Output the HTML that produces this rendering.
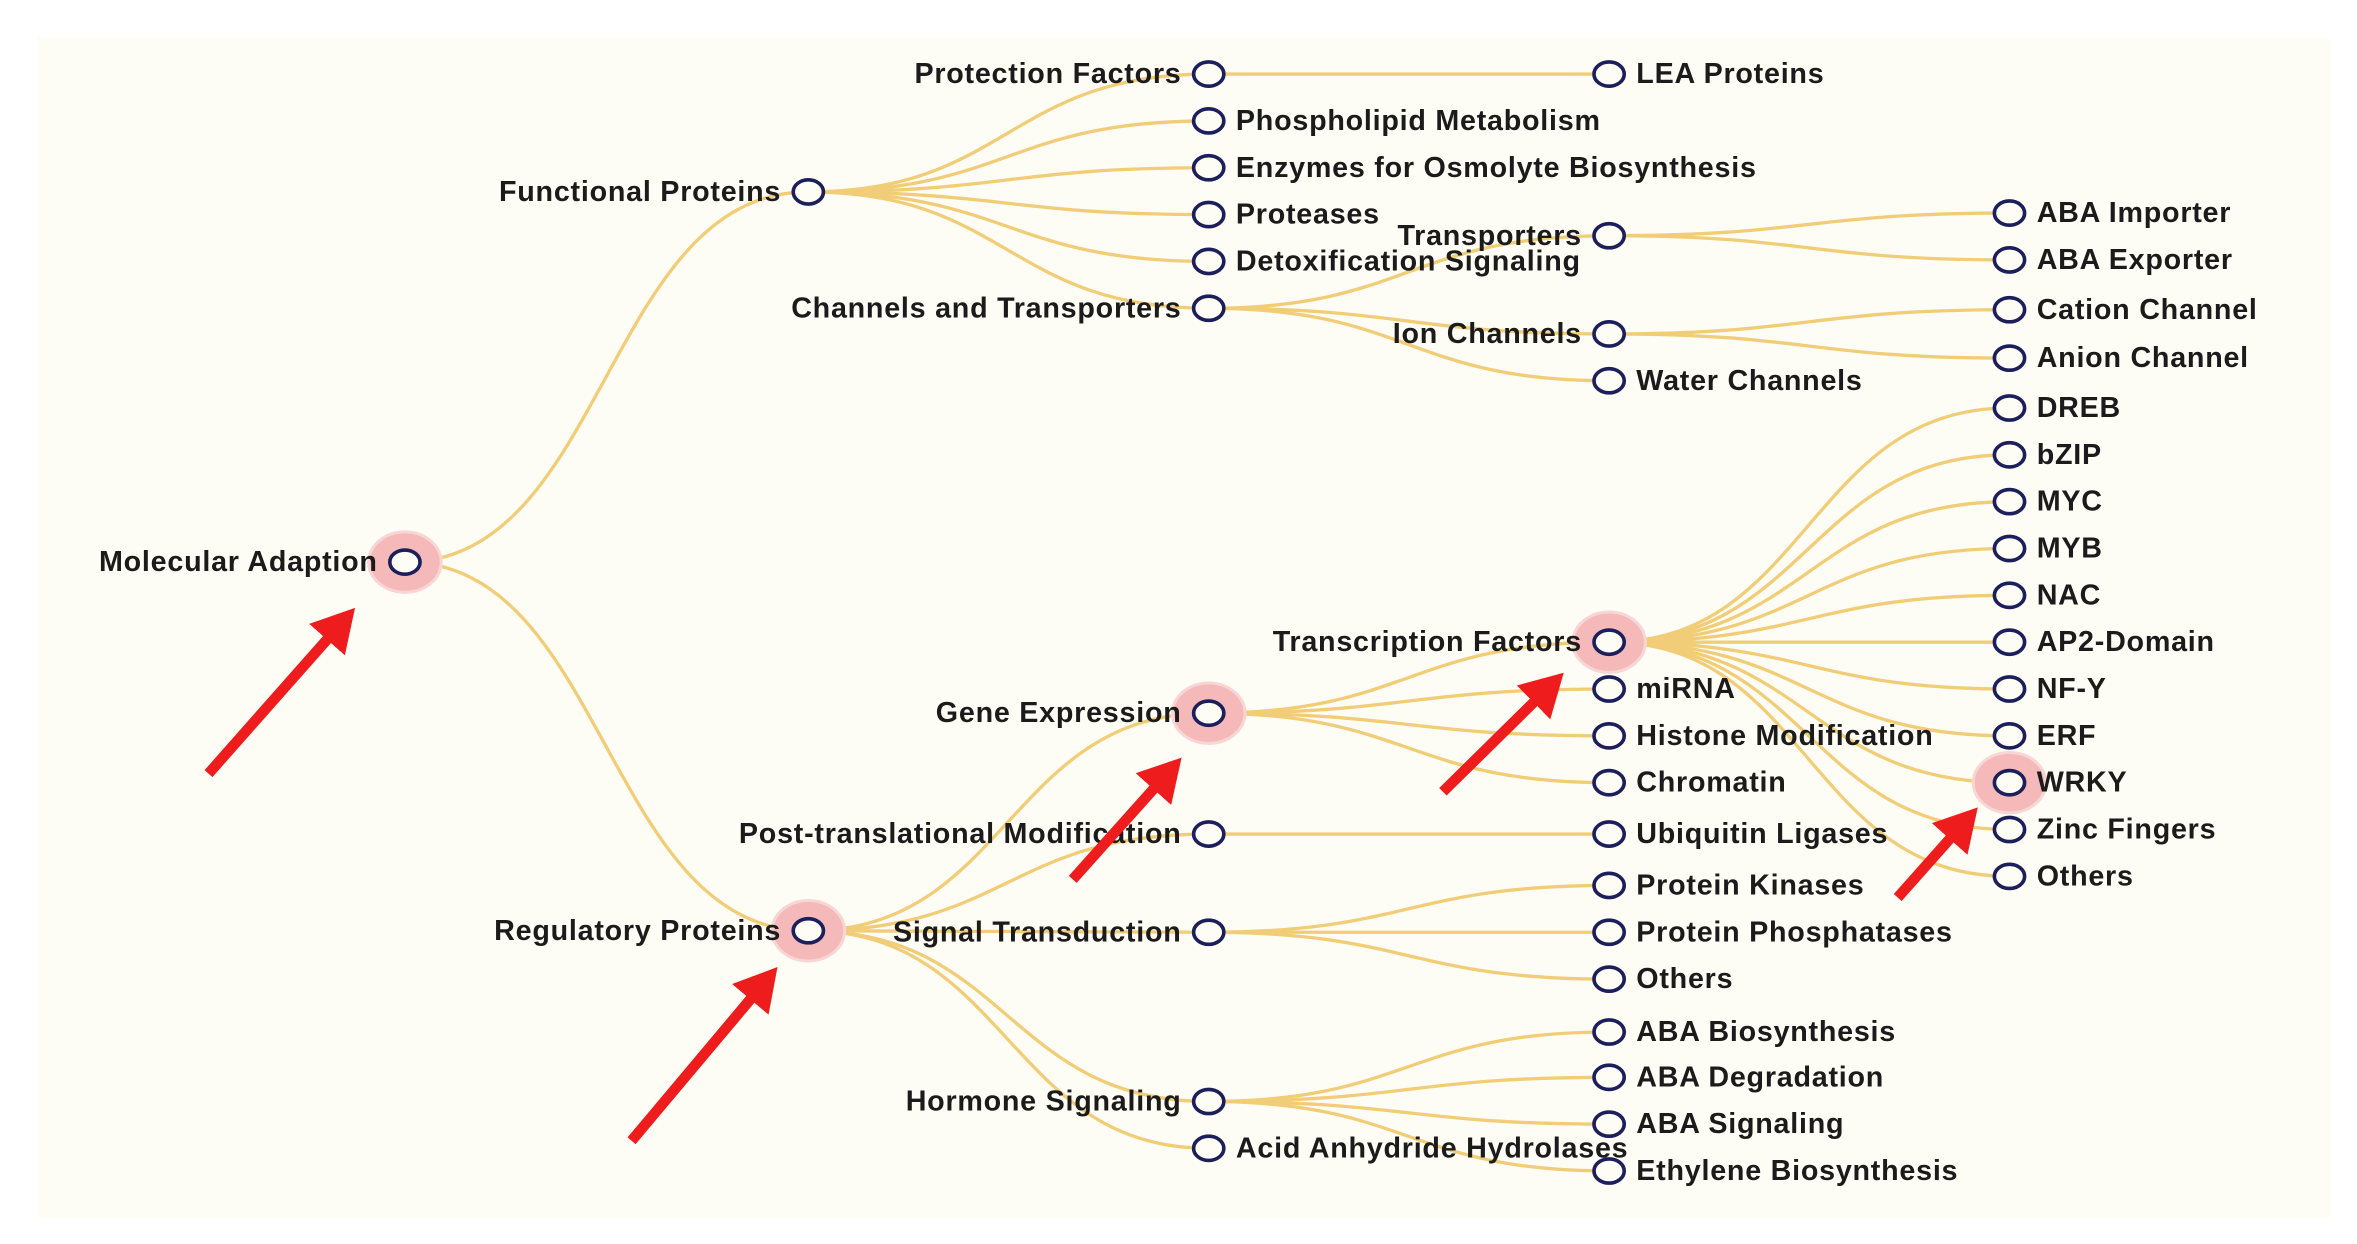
<!DOCTYPE html>
<html><head><meta charset="utf-8"><style>
html,body{margin:0;padding:0;background:#fff;}
svg{display:block}
text{font-family:"Liberation Sans",Arial,sans-serif;font-size:19px;font-weight:bold;fill:#1b1b1b;letter-spacing:0.5px;}
.l{fill:none;stroke:#f2cd78;stroke-width:2.2;}
.n{fill:#fefdf5;stroke:#1c1f5c;stroke-width:2.4;}
.h{fill:#f5b9b9;stroke:#f8d6d6;stroke-width:2;}
.e{text-anchor:end}
</style></head><body>
<svg width="2357" height="1244" viewBox="0 0 1560 823.3" xmlns="http://www.w3.org/2000/svg">
<rect x="0" y="0" width="1560" height="823.3" fill="#fff"/>
<rect x="25" y="25" width="1517" height="781" fill="#fefdf5"/>
<g class="l">
<path d="M268 372 C401 372,401 127,535 127"/>
<path d="M268 372 C401 372,401 616,535 616"/>
<path d="M535 127 C667 127,667 49,800 49"/>
<path d="M535 127 C667 127,667 80,800 80"/>
<path d="M535 127 C667 127,667 111,800 111"/>
<path d="M535 127 C667 127,667 142,800 142"/>
<path d="M535 127 C667 127,667 173,800 173"/>
<path d="M535 127 C667 127,667 204,800 204"/>
<path d="M535 616 C667 616,667 472,800 472"/>
<path d="M535 616 C667 616,667 552,800 552"/>
<path d="M535 616 C667 616,667 617,800 617"/>
<path d="M535 616 C667 616,667 729,800 729"/>
<path d="M535 616 C667 616,667 760,800 760"/>
<path d="M800 49 C932 49,932 49,1065 49"/>
<path d="M800 204 C932 204,932 156,1065 156"/>
<path d="M800 204 C932 204,932 221,1065 221"/>
<path d="M800 204 C932 204,932 252,1065 252"/>
<path d="M800 472 C932 472,932 425,1065 425"/>
<path d="M800 472 C932 472,932 456,1065 456"/>
<path d="M800 472 C932 472,932 487,1065 487"/>
<path d="M800 472 C932 472,932 518,1065 518"/>
<path d="M800 552 C932 552,932 552,1065 552"/>
<path d="M800 617 C932 617,932 586,1065 586"/>
<path d="M800 617 C932 617,932 617,1065 617"/>
<path d="M800 617 C932 617,932 648,1065 648"/>
<path d="M800 729 C932 729,932 683,1065 683"/>
<path d="M800 729 C932 729,932 713,1065 713"/>
<path d="M800 729 C932 729,932 744,1065 744"/>
<path d="M800 729 C932 729,932 775,1065 775"/>
<path d="M1065 156 C1197 156,1197 141,1330 141"/>
<path d="M1065 156 C1197 156,1197 172,1330 172"/>
<path d="M1065 221 C1197 221,1197 205,1330 205"/>
<path d="M1065 221 C1197 221,1197 237,1330 237"/>
<path d="M1065 425 C1197 425,1197 270,1330 270"/>
<path d="M1065 425 C1197 425,1197 301,1330 301"/>
<path d="M1065 425 C1197 425,1197 332,1330 332"/>
<path d="M1065 425 C1197 425,1197 363,1330 363"/>
<path d="M1065 425 C1197 425,1197 394,1330 394"/>
<path d="M1065 425 C1197 425,1197 425,1330 425"/>
<path d="M1065 425 C1197 425,1197 456,1330 456"/>
<path d="M1065 425 C1197 425,1197 487,1330 487"/>
<path d="M1065 425 C1197 425,1197 518,1330 518"/>
<path d="M1065 425 C1197 425,1197 549,1330 549"/>
<path d="M1065 425 C1197 425,1197 580,1330 580"/>
</g>
<g class="h">
<ellipse cx="268" cy="372" rx="24" ry="20"/>
<ellipse cx="535" cy="616" rx="24" ry="20"/>
<ellipse cx="800" cy="472" rx="24" ry="20"/>
<ellipse cx="1065" cy="425" rx="24" ry="20"/>
<ellipse cx="1330" cy="518" rx="24" ry="20"/>
</g>
<g class="n">
<ellipse cx="268" cy="372" rx="10" ry="8"/>
<ellipse cx="535" cy="127" rx="10" ry="8"/>
<ellipse cx="535" cy="616" rx="10" ry="8"/>
<ellipse cx="800" cy="49" rx="10" ry="8"/><ellipse cx="800" cy="80" rx="10" ry="8"/><ellipse cx="800" cy="111" rx="10" ry="8"/><ellipse cx="800" cy="142" rx="10" ry="8"/><ellipse cx="800" cy="173" rx="10" ry="8"/><ellipse cx="800" cy="204" rx="10" ry="8"/>
<ellipse cx="800" cy="472" rx="10" ry="8"/><ellipse cx="800" cy="552" rx="10" ry="8"/><ellipse cx="800" cy="617" rx="10" ry="8"/><ellipse cx="800" cy="729" rx="10" ry="8"/><ellipse cx="800" cy="760" rx="10" ry="8"/>
<ellipse cx="1065" cy="49" rx="10" ry="8"/><ellipse cx="1065" cy="156" rx="10" ry="8"/><ellipse cx="1065" cy="221" rx="10" ry="8"/><ellipse cx="1065" cy="252" rx="10" ry="8"/>
<ellipse cx="1065" cy="425" rx="10" ry="8"/><ellipse cx="1065" cy="456" rx="10" ry="8"/><ellipse cx="1065" cy="487" rx="10" ry="8"/><ellipse cx="1065" cy="518" rx="10" ry="8"/><ellipse cx="1065" cy="552" rx="10" ry="8"/>
<ellipse cx="1065" cy="586" rx="10" ry="8"/><ellipse cx="1065" cy="617" rx="10" ry="8"/><ellipse cx="1065" cy="648" rx="10" ry="8"/>
<ellipse cx="1065" cy="683" rx="10" ry="8"/><ellipse cx="1065" cy="713" rx="10" ry="8"/><ellipse cx="1065" cy="744" rx="10" ry="8"/><ellipse cx="1065" cy="775" rx="10" ry="8"/>
<ellipse cx="1330" cy="141" rx="10" ry="8"/><ellipse cx="1330" cy="172" rx="10" ry="8"/><ellipse cx="1330" cy="205" rx="10" ry="8"/><ellipse cx="1330" cy="237" rx="10" ry="8"/>
<ellipse cx="1330" cy="270" rx="10" ry="8"/><ellipse cx="1330" cy="301" rx="10" ry="8"/><ellipse cx="1330" cy="332" rx="10" ry="8"/><ellipse cx="1330" cy="363" rx="10" ry="8"/><ellipse cx="1330" cy="394" rx="10" ry="8"/><ellipse cx="1330" cy="425" rx="10" ry="8"/>
<ellipse cx="1330" cy="456" rx="10" ry="8"/><ellipse cx="1330" cy="487" rx="10" ry="8"/><ellipse cx="1330" cy="518" rx="10" ry="8"/><ellipse cx="1330" cy="549" rx="10" ry="8"/><ellipse cx="1330" cy="580" rx="10" ry="8"/>
</g>
<g>
<text class="e" x="250" y="378">Molecular Adaption</text>
<text class="e" x="517" y="133">Functional Proteins</text>
<text class="e" x="517" y="622">Regulatory Proteins</text>
<text class="e" x="782" y="55">Protection Factors</text>
<text x="818" y="86">Phospholipid Metabolism</text>
<text x="818" y="117">Enzymes for Osmolyte Biosynthesis</text>
<text x="818" y="148">Proteases</text>
<text x="818" y="179">Detoxification Signaling</text>
<text class="e" x="782" y="210">Channels and Transporters</text>
<text class="e" x="782" y="478">Gene Expression</text>
<text class="e" x="782" y="558">Post-translational Modification</text>
<text class="e" x="782" y="623">Signal Transduction</text>
<text class="e" x="782" y="735">Hormone Signaling</text>
<text x="818" y="766">Acid Anhydride Hydrolases</text>
<text x="1083" y="55">LEA Proteins</text>
<text class="e" x="1047" y="162">Transporters</text>
<text class="e" x="1047" y="227">Ion Channels</text>
<text x="1083" y="258">Water Channels</text>
<text class="e" x="1047" y="431">Transcription Factors</text>
<text x="1083" y="462">miRNA</text>
<text x="1083" y="493">Histone Modification</text>
<text x="1083" y="524">Chromatin</text>
<text x="1083" y="558">Ubiquitin Ligases</text>
<text x="1083" y="592">Protein Kinases</text>
<text x="1083" y="623">Protein Phosphatases</text>
<text x="1083" y="654">Others</text>
<text x="1083" y="689">ABA Biosynthesis</text>
<text x="1083" y="719">ABA Degradation</text>
<text x="1083" y="750">ABA Signaling</text>
<text x="1083" y="781">Ethylene Biosynthesis</text>
<text x="1348" y="147">ABA Importer</text>
<text x="1348" y="178">ABA Exporter</text>
<text x="1348" y="211">Cation Channel</text>
<text x="1348" y="243">Anion Channel</text>
<text x="1348" y="276">DREB</text>
<text x="1348" y="307">bZIP</text>
<text x="1348" y="338">MYC</text>
<text x="1348" y="369">MYB</text>
<text x="1348" y="400">NAC</text>
<text x="1348" y="431">AP2-Domain</text>
<text x="1348" y="462">NF-Y</text>
<text x="1348" y="493">ERF</text>
<text x="1348" y="524">WRKY</text>
<text x="1348" y="555">Zinc Fingers</text>
<text x="1348" y="586">Others</text>
</g>
<defs>
<marker id="ah" markerWidth="5" markerHeight="5" refX="1.2" refY="2.25" orient="auto" markerUnits="strokeWidth">
<path d="M0 0 L4 2.25 L0 4.5 Z" fill="#ee1c1c"/>
</marker>
</defs>
<g stroke="#ee1c1c" stroke-width="7" marker-end="url(#ah)" fill="none">
<line x1="138" y1="512" x2="222" y2="417"/>
<line x1="418" y1="755" x2="502" y2="655"/>
<line x1="710" y1="582" x2="769" y2="516"/>
<line x1="955" y1="524" x2="1021" y2="459"/>
<line x1="1256" y1="594" x2="1296" y2="549"/>
</g>
</svg>
</body></html>
